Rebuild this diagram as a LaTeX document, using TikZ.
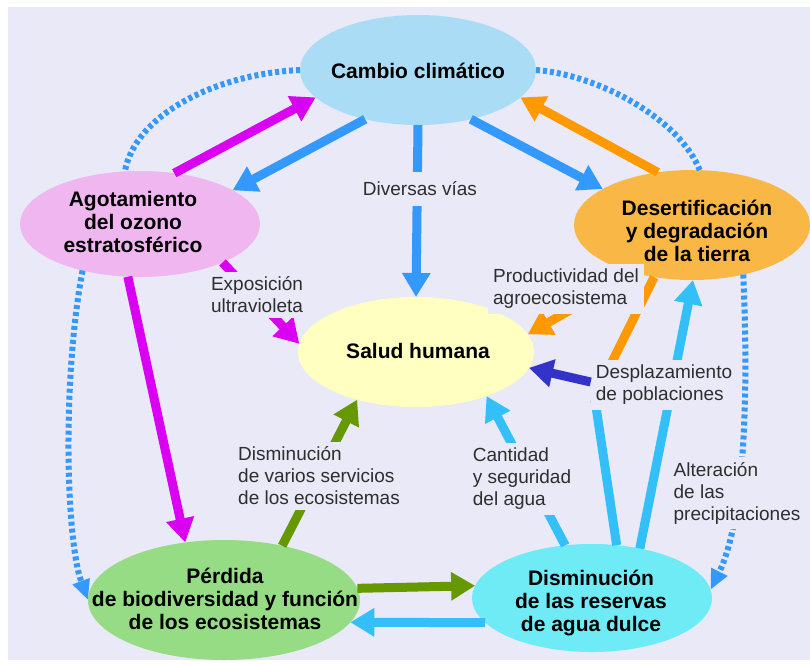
\documentclass[tikz,border=0pt]{standalone}
\usepackage{fontspec}
\setmainfont{Liberation Sans}
\usetikzlibrary{shapes.geometric,arrows.meta}
\definecolor{bg}{HTML}{E9E9F8}
\definecolor{cambioC}{HTML}{AADDF5}
\definecolor{agotC}{HTML}{F0B6F0}
\definecolor{desertC}{HTML}{F9B845}
\definecolor{saludC}{HTML}{FFFFC2}
\definecolor{perdidaC}{HTML}{96DC84}
\definecolor{dismC}{HTML}{6EEBF5}
\definecolor{arrBlue}{HTML}{3399FF}
\definecolor{arrMag}{HTML}{DA00F2}
\definecolor{arrOrange}{HTML}{FF9900}
\definecolor{arrDark}{HTML}{3333C8}
\definecolor{arrLight}{HTML}{33C0F8}
\definecolor{arrGreen}{HTML}{669900}
\definecolor{lblText}{HTML}{2E2E2E}
\begin{document}
\begin{tikzpicture}[x=1pt,y=-1pt,
  blob/.style={ellipse, draw=none, inner sep=0pt, outer sep=0pt},
  ttl/.style={font=\bfseries\fontsize{21}{23}\selectfont, align=center, text=black, inner sep=0pt},
  lbl/.style={font=\fontsize{19}{22}\selectfont, align=left, text=lblText, fill=bg, inner sep=5pt},
  fat/.style={line width=9pt, -{Triangle[width=27pt,length=24pt]}},
  bar/.style={line width=9pt},
  dotline/.style={draw=arrBlue, line width=6pt, dash pattern=on 4pt off 3pt},
  dotarrow/.style={dotline, -{Triangle[width=17pt,length=20pt,fill=arrBlue]}},
]
% background
\fill[white] (0,0) rectangle (810,664);
\fill[bg] (8,7) rectangle (810,660);
\useasboundingbox (0,0) rectangle (810,664);

% ellipses
\node[blob, fill=cambioC, minimum width=236pt, minimum height=110pt] (cambio) at (418,70) {};
\node[blob, fill=agotC, minimum width=240pt, minimum height=106pt] (agot) at (140,224) {};
\node[blob, fill=desertC, minimum width=236pt, minimum height=110pt] (desert) at (692,225) {};
\node[blob, fill=saludC, minimum width=236pt, minimum height=110pt] (salud) at (416,352) {};
\node[blob, fill=perdidaC, minimum width=272pt, minimum height=120pt] (perdida) at (224,600) {};
\node[blob, fill=dismC, minimum width=240pt, minimum height=108pt] (dism) at (592,598) {};

% node texts
\node[ttl] (cambioT) at (418,71) {Cambio climático};
\node[ttl] (agotT) at (133,222) {Agotamiento\\del ozono\\estratosférico};
\node[ttl] (desertT) at (697,231) {Desertificación\\y degradación\\de la tierra};
\node[ttl] (saludT) at (418,351) {Salud humana};
\node[ttl] (perdidaT) at (225,599) {Pérdida\\de biodiversidad y función\\de los ecosistemas};
\node[ttl] (dismT) at (591,603) {Disminución\\de las reservas\\de agua dulce};

% dotted connectors
\path[dotline] (cambio.180) .. controls (215,74) and (135,115) .. (agot.106);
\path[dotarrow] (agot.219) .. controls (62,380) and (66,540) .. (perdida.180);
\path[dotline] (cambio.0) .. controls (600,75) and (680,120) .. (desert.82);
\path[dotarrow] (desert.316) .. controls (750,430) and (740,530) .. (dism.4);

% free ends hidden under the displacement label
\coordinate (orEnd) at (607,372);
\coordinate (lbEnd) at (595,400);

% thick arrows
\draw[fat, arrBlue] (cambio.223) -- (agot.20);
\draw[fat, arrMag] (agot.56) -- (cambio.195);
\draw[fat, arrBlue] (cambio.317) -- (desert.158);
\draw[fat, arrOrange] (desert.123) -- (cambio.345);
\draw[fat, arrBlue] (cambio.south) -- (salud.north);
\draw[fat, arrMag] (agot.257) -- (perdida.124);
\draw[fat, arrMag] (agot.335) -- (salud.176);
\draw[fat, arrOrange] (desert.220) -- (salud.9);
\draw[bar, arrOrange] (desert.234) -- (orEnd);
\draw[bar, arrLight] (dism.65) -- (lbEnd);
\draw[fat, arrLight] (dism.46) -- (desert.271);
\draw[fat, arrLight] (dism.117) -- (salud.328);
\draw[fat, arrGreen] (perdida.43) -- (salud.219);
\draw[fat, arrGreen] (perdida.5.6) -- (dism.174.5);
\draw[fat, arrLight] (dism.193) -- (perdida.350);

% labels (opaque, over the connectors)
\node[lbl, inner ysep=10pt] (divers) at (420,189) {Diversas vías};
\node[lbl] (expos) at (257,295) {Exposición\\ultravioleta};
\node[lbl] (produc) at (566,289) {Productividad del\\agroecosistema};
\node[lbl] (despl) at (664,385) {Desplazamiento\\de poblaciones};
\node[lbl] (cantid) at (522,479) {Cantidad\\y seguridad\\del agua};
\node[lbl] (alter) at (737,493) {Alteración\\de las\\precipitaciones};
\node[lbl] (servic) at (319,476) {Disminución\\de varios servicios\\de los ecosistemas};

\draw[fat, arrDark] ([yshift=3pt]despl.west) -- (salud.352);
\end{tikzpicture}
\end{document}
